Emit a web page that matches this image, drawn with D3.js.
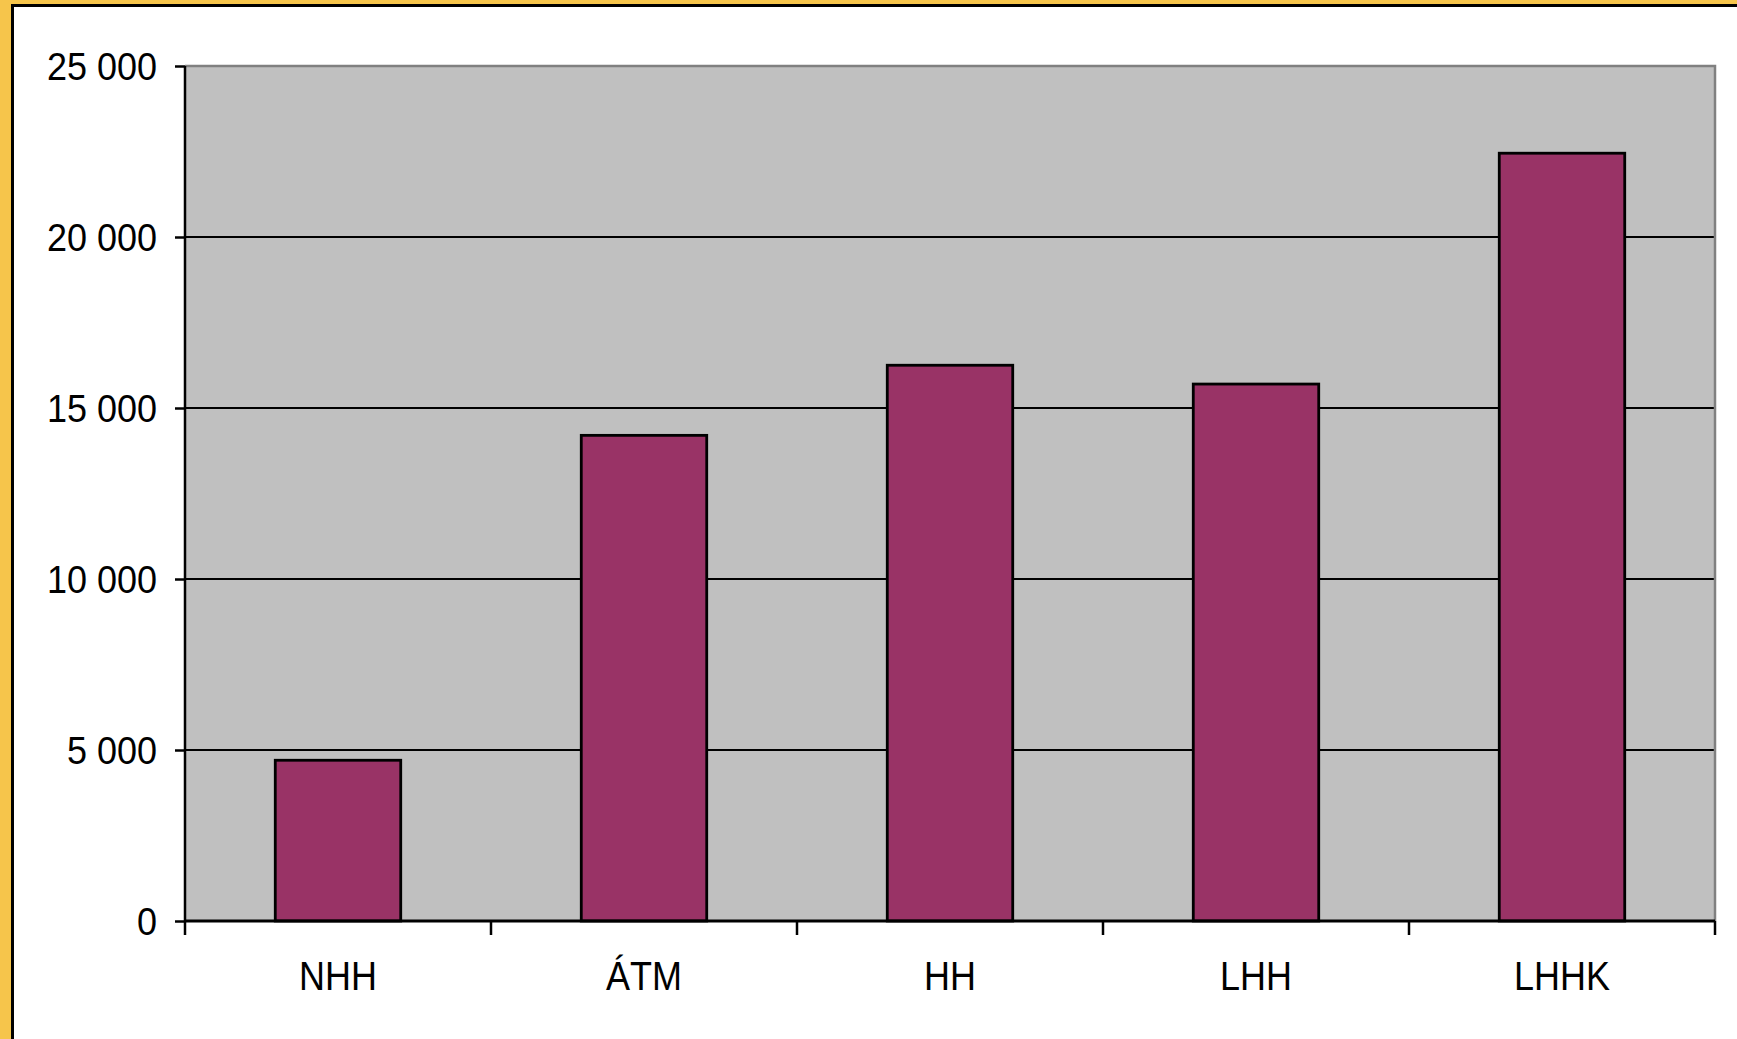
<!DOCTYPE html>
<html>
<head>
<meta charset="utf-8">
<script src="https://cdn.jsdelivr.net/npm/d3@7"></script>
<style>
  html, body { margin: 0; padding: 0; background: #fff; }
  svg { display: block; }
  text { font-family: "Liberation Sans", Arial, sans-serif; fill: #000; }
</style>
</head>
<body>
<script>
const categories = ["NHH", "ÁTM", "HH", "LHH", "LHHK"];
const values = [4700, 14200, 16250, 15700, 22450];
const yTicks = [0, 5000, 10000, 15000, 20000, 25000];
const yTickLabels = ["0", "5 000", "10 000", "15 000", "20 000", "25 000"];

const W = 1737, H = 1039;
const plot = { left: 185, right: 1715, top: 66, bottom: 921 };

const svg = d3.select("body").append("svg").attr("width", W).attr("height", H);

// outer frame
svg.append("rect").attr("x", 0).attr("y", 0).attr("width", W).attr("height", H).attr("fill", "#fff");
svg.append("rect").attr("x", 0).attr("y", 0).attr("width", 11).attr("height", H).attr("fill", "#F6C54B");
svg.append("rect").attr("x", 0).attr("y", 0).attr("width", W).attr("height", 4).attr("fill", "#F6C54B");
svg.append("rect").attr("x", 11).attr("y", 4).attr("width", 3).attr("height", H).attr("fill", "#000");
svg.append("rect").attr("x", 11).attr("y", 4).attr("width", W).attr("height", 3).attr("fill", "#000");

const x = d3.scaleBand().domain(categories).range([plot.left, plot.right])
  .paddingInner(0.59).paddingOuter(0.295);
const y = d3.scaleLinear().domain([0, 25000]).range([plot.bottom, plot.top]);

// plot area background
svg.append("rect").attr("x", plot.left).attr("y", plot.top)
  .attr("width", plot.right - plot.left).attr("height", plot.bottom - plot.top)
  .attr("fill", "#C0C0C0");

// gridlines
svg.append("g").selectAll("line").data(yTicks.filter(d => d > 0 && d < 25000)).join("line")
  .attr("x1", plot.left).attr("x2", plot.right)
  .attr("y1", d => y(d)).attr("y2", d => y(d))
  .attr("stroke", "#000").attr("stroke-width", 2);

// top and right border (grey)
svg.append("path")
  .attr("d", `M${plot.left},${plot.top}H${plot.right}V${plot.bottom}`)
  .attr("fill", "none").attr("stroke", "#808080").attr("stroke-width", 2.5);

// bars
svg.append("g").selectAll("rect").data(values).join("rect")
  .attr("x", (d, i) => x(categories[i]))
  .attr("y", d => y(d))
  .attr("width", x.bandwidth())
  .attr("height", d => plot.bottom - y(d))
  .attr("fill", "#993366")
  .attr("stroke", "#000").attr("stroke-width", 2.8);

// y axis
const yAxis = d3.axisLeft(y).tickValues(yTicks)
  .tickFormat((d, i) => yTickLabels[i]).tickSize(10).tickPadding(18);
const gy = svg.append("g").attr("transform", `translate(${plot.left},0)`).call(yAxis);
gy.select(".domain").attr("stroke", "#000").attr("stroke-width", 2.5)
  .attr("d", `M0,${plot.bottom}V${plot.top}`);
gy.selectAll(".tick line").attr("stroke", "#000").attr("stroke-width", 2.5);
gy.selectAll(".tick text")
  .attr("font-size", 36).attr("font-family", "Liberation Sans, Arial, sans-serif")
  .attr("fill", "#000")
  .attr("dy", null).attr("dominant-baseline", "central")
  .attr("transform", function() {
    const xx = +d3.select(this).attr("x");
    return `translate(${xx},0) scale(1,1.1) translate(${-xx},0)`;
  });

// x axis
const step = x.step();
const boundaries = [plot.left].concat(categories.map(c => x(c) + x.bandwidth() + step * 0.59 / 2));
boundaries[boundaries.length - 1] = plot.right;
const gx = svg.append("g");
gx.append("line").attr("x1", plot.left).attr("x2", plot.right)
  .attr("y1", plot.bottom).attr("y2", plot.bottom)
  .attr("stroke", "#000").attr("stroke-width", 2.8);
gx.selectAll("line.tk").data(boundaries).join("line").attr("class", "tk")
  .attr("x1", d => d).attr("x2", d => d)
  .attr("y1", plot.bottom).attr("y2", plot.bottom + 14)
  .attr("stroke", "#000").attr("stroke-width", 2.5);
gx.selectAll("text").data(categories).join("text")
  .attr("x", d => x(d) + x.bandwidth() / 2)
  .attr("y", 0)
  .attr("text-anchor", "middle")
  .attr("dominant-baseline", "central")
  .attr("font-size", 36)
  .attr("transform", d => `translate(0,976) scale(1,1.15)`)
  .text(d => d);
</script>
</body>
</html>
